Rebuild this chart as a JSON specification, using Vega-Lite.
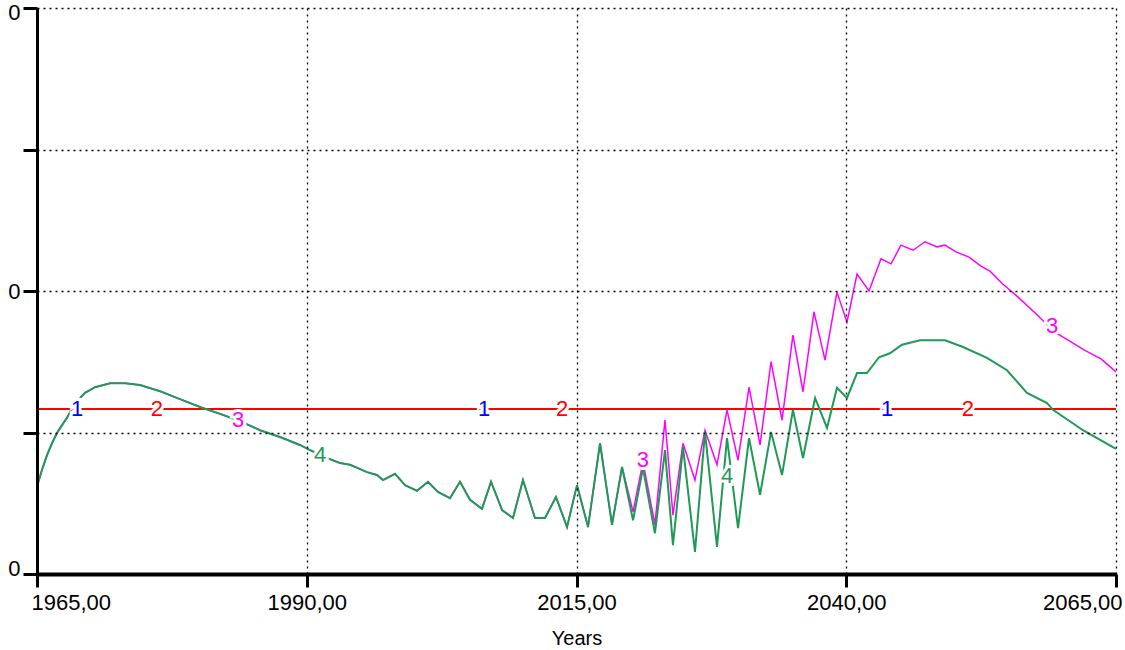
{
  "$schema": "https://vega.github.io/schema/vega-lite/v6.json",
  "width": 1079,
  "height": 566,
  "autosize": {"type": "none"},
  "padding": {"left": 37, "top": 8, "right": 9, "bottom": 76},
  "background": "white",
  "config": {
    "view": {"stroke": null},
    "font": "Liberation Sans",
    "axis": {
      "domainColor": "black",
      "tickColor": "black",
      "gridColor": "black",
      "gridDash": [2, 4],
      "gridWidth": 1.3,
      "labelColor": "black",
      "labelFont": "Liberation Sans",
      "titleFont": "Liberation Sans",
      "titleFontWeight": "normal",
      "titleColor": "black"
    }
  },
  "datasets": {
    "lines": [
      {"s": "1", "year": 1965, "v": 0.2915},
      {"s": "1", "year": 2065, "v": 0.2915},
      {"s": "2", "year": 1965, "v": 0.2915},
      {"s": "2", "year": 2065, "v": 0.2915},
      {"s": "3", "year": 1965.00, "v": 0.154},
      {"s": "3", "year": 1965.46, "v": 0.184},
      {"s": "3", "year": 1965.93, "v": 0.210},
      {"s": "3", "year": 1966.39, "v": 0.231},
      {"s": "3", "year": 1966.85, "v": 0.249},
      {"s": "3", "year": 1967.32, "v": 0.263},
      {"s": "3", "year": 1967.78, "v": 0.276},
      {"s": "3", "year": 1968.52, "v": 0.302},
      {"s": "3", "year": 1969.45, "v": 0.320},
      {"s": "3", "year": 1970.38, "v": 0.330},
      {"s": "3", "year": 1971.77, "v": 0.337},
      {"s": "3", "year": 1973.16, "v": 0.337},
      {"s": "3", "year": 1974.55, "v": 0.334},
      {"s": "3", "year": 1976.40, "v": 0.323},
      {"s": "3", "year": 1978.25, "v": 0.309},
      {"s": "3", "year": 1980.11, "v": 0.295},
      {"s": "3", "year": 1981.96, "v": 0.283},
      {"s": "3", "year": 1983.81, "v": 0.270},
      {"s": "3", "year": 1985.67, "v": 0.254},
      {"s": "3", "year": 1987.52, "v": 0.242},
      {"s": "3", "year": 1989.37, "v": 0.228},
      {"s": "3", "year": 1990.30, "v": 0.219},
      {"s": "3", "year": 1991.88, "v": 0.205},
      {"s": "3", "year": 1993.08, "v": 0.196},
      {"s": "3", "year": 1994.01, "v": 0.193},
      {"s": "3", "year": 1994.75, "v": 0.187},
      {"s": "3", "year": 1995.58, "v": 0.180},
      {"s": "3", "year": 1996.51, "v": 0.175},
      {"s": "3", "year": 1997.07, "v": 0.166},
      {"s": "3", "year": 1998.18, "v": 0.177},
      {"s": "3", "year": 1999.11, "v": 0.157},
      {"s": "3", "year": 2000.22, "v": 0.147},
      {"s": "3", "year": 2001.24, "v": 0.163},
      {"s": "3", "year": 2002.16, "v": 0.145},
      {"s": "3", "year": 2003.28, "v": 0.134},
      {"s": "3", "year": 2004.20, "v": 0.163},
      {"s": "3", "year": 2005.13, "v": 0.131},
      {"s": "3", "year": 2006.24, "v": 0.115},
      {"s": "3", "year": 2007.08, "v": 0.163},
      {"s": "3", "year": 2008.10, "v": 0.113},
      {"s": "3", "year": 2009.11, "v": 0.099},
      {"s": "3", "year": 2010.04, "v": 0.166},
      {"s": "3", "year": 2011.15, "v": 0.099},
      {"s": "3", "year": 2012.08, "v": 0.099},
      {"s": "3", "year": 2013.10, "v": 0.136},
      {"s": "3", "year": 2014.12, "v": 0.083},
      {"s": "3", "year": 2015.05, "v": 0.157},
      {"s": "3", "year": 2016.07, "v": 0.083},
      {"s": "3", "year": 2017.18, "v": 0.231},
      {"s": "3", "year": 2018.29, "v": 0.087},
      {"s": "3", "year": 2019.22, "v": 0.189},
      {"s": "3", "year": 2020.24, "v": 0.110},
      {"s": "3", "year": 2021.16, "v": 0.198},
      {"s": "3", "year": 2022.27, "v": 0.087},
      {"s": "3", "year": 2023.20, "v": 0.272},
      {"s": "3", "year": 2023.94, "v": 0.104},
      {"s": "3", "year": 2024.87, "v": 0.231},
      {"s": "3", "year": 2025.98, "v": 0.166},
      {"s": "3", "year": 2026.91, "v": 0.254},
      {"s": "3", "year": 2028.02, "v": 0.193},
      {"s": "3", "year": 2028.95, "v": 0.290},
      {"s": "3", "year": 2029.97, "v": 0.201},
      {"s": "3", "year": 2030.99, "v": 0.330},
      {"s": "3", "year": 2032.01, "v": 0.228},
      {"s": "3", "year": 2033.03, "v": 0.375},
      {"s": "3", "year": 2034.05, "v": 0.272},
      {"s": "3", "year": 2035.06, "v": 0.422},
      {"s": "3", "year": 2035.99, "v": 0.322},
      {"s": "3", "year": 2037.01, "v": 0.463},
      {"s": "3", "year": 2038.03, "v": 0.378},
      {"s": "3", "year": 2039.14, "v": 0.498},
      {"s": "3", "year": 2040.07, "v": 0.445},
      {"s": "3", "year": 2041.00, "v": 0.530},
      {"s": "3", "year": 2042.11, "v": 0.500},
      {"s": "3", "year": 2043.22, "v": 0.557},
      {"s": "3", "year": 2044.15, "v": 0.548},
      {"s": "3", "year": 2045.07, "v": 0.581},
      {"s": "3", "year": 2046.19, "v": 0.572},
      {"s": "3", "year": 2047.30, "v": 0.587},
      {"s": "3", "year": 2048.41, "v": 0.578},
      {"s": "3", "year": 2049.15, "v": 0.581},
      {"s": "3", "year": 2050.17, "v": 0.569},
      {"s": "3", "year": 2051.38, "v": 0.560},
      {"s": "3", "year": 2052.49, "v": 0.544},
      {"s": "3", "year": 2053.32, "v": 0.535},
      {"s": "3", "year": 2054.53, "v": 0.512},
      {"s": "3", "year": 2055.82, "v": 0.491},
      {"s": "3", "year": 2057.68, "v": 0.458},
      {"s": "3", "year": 2059.25, "v": 0.428},
      {"s": "3", "year": 2060.83, "v": 0.410},
      {"s": "3", "year": 2062.03, "v": 0.396},
      {"s": "3", "year": 2063.61, "v": 0.380},
      {"s": "3", "year": 2065.00, "v": 0.357},
      {"s": "4", "year": 1965.00, "v": 0.154},
      {"s": "4", "year": 1965.46, "v": 0.184},
      {"s": "4", "year": 1965.93, "v": 0.210},
      {"s": "4", "year": 1966.39, "v": 0.231},
      {"s": "4", "year": 1966.85, "v": 0.249},
      {"s": "4", "year": 1967.32, "v": 0.263},
      {"s": "4", "year": 1967.78, "v": 0.276},
      {"s": "4", "year": 1968.52, "v": 0.302},
      {"s": "4", "year": 1969.45, "v": 0.320},
      {"s": "4", "year": 1970.38, "v": 0.330},
      {"s": "4", "year": 1971.77, "v": 0.337},
      {"s": "4", "year": 1973.16, "v": 0.337},
      {"s": "4", "year": 1974.55, "v": 0.334},
      {"s": "4", "year": 1976.40, "v": 0.323},
      {"s": "4", "year": 1978.25, "v": 0.309},
      {"s": "4", "year": 1980.11, "v": 0.295},
      {"s": "4", "year": 1981.96, "v": 0.283},
      {"s": "4", "year": 1983.81, "v": 0.270},
      {"s": "4", "year": 1985.67, "v": 0.254},
      {"s": "4", "year": 1987.52, "v": 0.242},
      {"s": "4", "year": 1989.37, "v": 0.228},
      {"s": "4", "year": 1990.30, "v": 0.219},
      {"s": "4", "year": 1991.88, "v": 0.205},
      {"s": "4", "year": 1993.08, "v": 0.196},
      {"s": "4", "year": 1994.01, "v": 0.193},
      {"s": "4", "year": 1994.75, "v": 0.187},
      {"s": "4", "year": 1995.58, "v": 0.180},
      {"s": "4", "year": 1996.51, "v": 0.175},
      {"s": "4", "year": 1997.07, "v": 0.166},
      {"s": "4", "year": 1998.18, "v": 0.177},
      {"s": "4", "year": 1999.11, "v": 0.157},
      {"s": "4", "year": 2000.22, "v": 0.147},
      {"s": "4", "year": 2001.24, "v": 0.163},
      {"s": "4", "year": 2002.16, "v": 0.145},
      {"s": "4", "year": 2003.28, "v": 0.134},
      {"s": "4", "year": 2004.20, "v": 0.163},
      {"s": "4", "year": 2005.13, "v": 0.131},
      {"s": "4", "year": 2006.24, "v": 0.115},
      {"s": "4", "year": 2007.08, "v": 0.163},
      {"s": "4", "year": 2008.10, "v": 0.113},
      {"s": "4", "year": 2009.11, "v": 0.099},
      {"s": "4", "year": 2010.04, "v": 0.166},
      {"s": "4", "year": 2011.15, "v": 0.099},
      {"s": "4", "year": 2012.08, "v": 0.099},
      {"s": "4", "year": 2013.10, "v": 0.136},
      {"s": "4", "year": 2014.12, "v": 0.083},
      {"s": "4", "year": 2015.05, "v": 0.157},
      {"s": "4", "year": 2016.07, "v": 0.083},
      {"s": "4", "year": 2017.18, "v": 0.231},
      {"s": "4", "year": 2018.29, "v": 0.087},
      {"s": "4", "year": 2019.22, "v": 0.189},
      {"s": "4", "year": 2020.24, "v": 0.095},
      {"s": "4", "year": 2021.16, "v": 0.187},
      {"s": "4", "year": 2022.27, "v": 0.072},
      {"s": "4", "year": 2023.20, "v": 0.219},
      {"s": "4", "year": 2023.94, "v": 0.051},
      {"s": "4", "year": 2024.87, "v": 0.224},
      {"s": "4", "year": 2025.98, "v": 0.039},
      {"s": "4", "year": 2026.91, "v": 0.251},
      {"s": "4", "year": 2028.02, "v": 0.048},
      {"s": "4", "year": 2028.95, "v": 0.240},
      {"s": "4", "year": 2029.97, "v": 0.081},
      {"s": "4", "year": 2030.99, "v": 0.240},
      {"s": "4", "year": 2032.01, "v": 0.140},
      {"s": "4", "year": 2033.03, "v": 0.251},
      {"s": "4", "year": 2034.05, "v": 0.175},
      {"s": "4", "year": 2035.06, "v": 0.290},
      {"s": "4", "year": 2035.99, "v": 0.205},
      {"s": "4", "year": 2037.11, "v": 0.311},
      {"s": "4", "year": 2038.22, "v": 0.258},
      {"s": "4", "year": 2039.14, "v": 0.329},
      {"s": "4", "year": 2040.07, "v": 0.311},
      {"s": "4", "year": 2041.00, "v": 0.355},
      {"s": "4", "year": 2041.92, "v": 0.355},
      {"s": "4", "year": 2043.04, "v": 0.383},
      {"s": "4", "year": 2044.05, "v": 0.390},
      {"s": "4", "year": 2045.17, "v": 0.405},
      {"s": "4", "year": 2046.84, "v": 0.413},
      {"s": "4", "year": 2049.15, "v": 0.413},
      {"s": "4", "year": 2050.82, "v": 0.401},
      {"s": "4", "year": 2053.04, "v": 0.382},
      {"s": "4", "year": 2054.90, "v": 0.360},
      {"s": "4", "year": 2056.75, "v": 0.320},
      {"s": "4", "year": 2058.61, "v": 0.302},
      {"s": "4", "year": 2059.16, "v": 0.290},
      {"s": "4", "year": 2061.94, "v": 0.254},
      {"s": "4", "year": 2065.00, "v": 0.221}
    ],
    "labels": [
      {"s": "1", "year": 1968.71, "v": 0.2915},
      {"s": "1", "year": 2006.43, "v": 0.2915},
      {"s": "1", "year": 2043.78, "v": 0.2915},
      {"s": "2", "year": 1976.12, "v": 0.2915},
      {"s": "2", "year": 2013.66, "v": 0.2915},
      {"s": "2", "year": 2051.28, "v": 0.2915},
      {"s": "3", "year": 1983.63, "v": 0.272},
      {"s": "3", "year": 2021.16, "v": 0.201},
      {"s": "3", "year": 2059.07, "v": 0.438},
      {"s": "4", "year": 1991.23, "v": 0.210},
      {"s": "4", "year": 2028.95, "v": 0.173}
    ]
  },
  "encoding": {
    "x": {
      "field": "year",
      "type": "quantitative",
      "scale": {"domain": [1965, 2065], "nice": false, "zero": false},
      "axis": {
        "values": [1965, 1990, 2015, 2040, 2065],
        "labelExpr": "replace(format(datum.value, '.2f'), '.', ',')",
        "labelFontSize": 22,
        "labelPadding": 5,
        "labelFlush": true,
        "labelFlushOffset": 6,
        "labelOverlap": false,
        "domainWidth": 4,
        "tickWidth": 3,
        "tickSize": 13,
        "title": "Years",
        "titleFontSize": 20,
        "titlePadding": 15,
        "zindex": 1
      }
    },
    "y": {
      "field": "v",
      "type": "quantitative",
      "scale": {"domain": [0, 1], "nice": false},
      "axis": {
        "values": [0, 0.25, 0.5, 0.75, 1],
        "labelExpr": "datum.value == 0.25 || datum.value == 0.75 ? '' : '0'",
        "labelFontSize": 22,
        "labelPadding": 3,
        "labelFlush": true,
        "labelFlushOffset": 6,
        "labelOverlap": false,
        "domainWidth": 3,
        "tickWidth": 3,
        "tickSize": 14,
        "title": null,
        "zindex": 1
      }
    },
    "color": {
      "field": "s",
      "type": "nominal",
      "scale": {"domain": ["1", "2", "3", "4"], "range": ["#0000ff", "#ff0000", "#ff00ff", "#1f9a55"]},
      "legend": null
    }
  },
  "layer": [
    {
      "data": {"name": "lines"},
      "transform": [{"filter": "datum.s == '1'"}],
      "mark": {"type": "line", "strokeWidth": 0.8}
    },
    {
      "data": {"name": "lines"},
      "transform": [{"filter": "datum.s == '2'"}],
      "mark": {"type": "line", "strokeWidth": 2}
    },
    {
      "data": {"name": "lines"},
      "transform": [{"filter": "datum.s == '3'"}],
      "mark": {"type": "line", "strokeWidth": 1.5}
    },
    {
      "data": {"name": "lines"},
      "transform": [{"filter": "datum.s == '4'"}],
      "mark": {"type": "line", "strokeWidth": 2}
    },
    {
      "data": {"name": "labels"},
      "mark": {"type": "text", "fontSize": 22, "align": "center", "baseline": "middle", "fill": "white", "stroke": "white", "strokeWidth": 6},
      "encoding": {"text": {"field": "s"}, "color": {"value": "white"}}
    },
    {
      "data": {"name": "labels"},
      "mark": {"type": "text", "fontSize": 22, "align": "center", "baseline": "middle"},
      "encoding": {"text": {"field": "s"}}
    }
  ]
}
